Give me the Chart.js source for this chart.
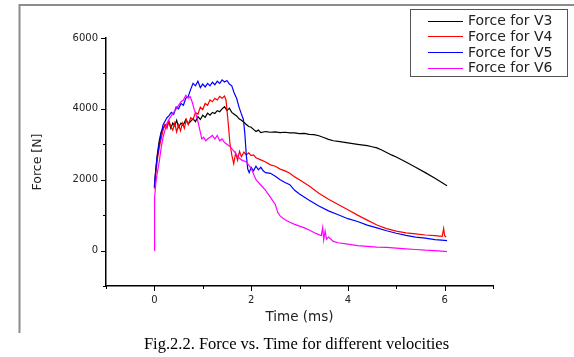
<!DOCTYPE html>
<html><head><meta charset="utf-8">
<script src="https://cdn.jsdelivr.net/npm/chart.js@4"></script>
<style>html,body{margin:0;padding:0;background:#fff;overflow:hidden}canvas{display:block}</style>
</head><body>
<canvas id="c" width="574" height="357"></canvas>
<script>
// ---- data ----
const seriesLabels = ['Force for V3', 'Force for V4', 'Force for V5', 'Force for V6'];
const seriesColors = ['#000000', '#ff0000', '#0000ff', '#ff00ff'];

const tV3 = [0,0.03,0.06,0.1,0.14,0.18,0.22,0.26,0.3,0.34,0.38,0.42,0.46,0.5,
  0.55,0.6,0.65,0.7,0.75,0.8,0.85,0.9,0.95,1.0,1.05,1.1,1.15,1.2,1.25,1.3,1.35,1.4,1.45,1.5,1.55,1.6,1.65,1.7,1.75,1.8,1.85,1.9,1.95,2.0,2.05,2.1,2.15,2.2,
  2.3,2.4,2.5,2.6,2.7,2.8,2.9,3.0,3.1,3.2,3.3,3.4,3.5,3.6,3.7,3.8,3.9,4.0,
  4.2,4.4,4.5,4.6,4.7,4.8,4.9,5.0,
  5.2,5.4,5.6,5.8,6.0,6.05];
const fV3 = [1800,2300,2700,3100,3350,3450,3550,3500,3650,3450,3600,3520,3680,3480,
  3600,3550,3700,3580,3650,3720,3640,3780,3700,3820,3760,3880,3820,3900,3870,3950,3920,4000,4060,3950,4020,3900,3850,3800,3720,3680,3620,3560,3500,3480,3420,3360,3400,3330,
  3360,3340,3350,3330,3340,3320,3320,3300,3310,3280,3270,3240,3190,3140,3100,3080,3060,3040,
  3000,2960,2930,2900,2840,2770,2700,2640,
  2500,2350,2200,2040,1870,1830];

const tV4 = [0,0.03,0.06,
  0.1,0.14,0.18,0.22,0.26,0.3,0.34,0.38,0.42,0.46,0.5,0.54,0.58,0.62,0.66,0.7,
  0.75,0.8,0.85,0.9,0.95,1.0,1.05,1.1,1.15,1.2,1.25,1.3,1.35,1.4,1.45,
  1.48,1.52,1.56,1.6,1.64,1.68,1.72,1.76,1.8,
  1.85,1.9,1.95,2.0,2.05,2.1,
  2.2,2.3,2.4,2.5,2.6,2.7,2.8,2.9,3.0,
  3.2,3.4,3.6,3.8,4.0,4.2,4.4,4.6,4.8,5.0,5.2,5.4,5.6,5.8,
  5.9,5.95,5.98,6.0,6.03];
const fV4 = [1750,2200,2550,
  2900,3150,3400,3550,3450,3650,3500,3400,3600,3350,3550,3380,3600,3450,3700,3550,
  3750,3700,3900,3850,4050,3980,4150,4100,4250,4200,4300,4250,4350,4300,4360,
  4250,3700,3050,2700,2450,2750,2550,2800,2650,
  2780,2700,2760,2680,2700,2620,
  2560,2500,2420,2380,2300,2250,2180,2080,2000,
  1820,1620,1450,1300,1150,1000,860,720,620,550,500,470,440,420,
  410,400,620,420,380];

const tV5 = [0,0.03,0.06,
  0.1,0.14,0.18,0.22,0.26,0.3,
  0.35,0.4,0.45,0.5,0.55,0.6,0.65,0.7,0.75,0.8,0.85,0.9,0.95,1.0,1.05,1.1,1.15,1.2,1.25,1.3,1.35,1.4,1.45,1.5,1.55,1.6,1.65,1.7,1.75,1.8,
  1.84,1.87,1.9,1.93,1.96,
  2.0,2.05,2.1,2.15,2.2,2.25,2.3,
  2.4,2.5,2.6,2.7,2.8,2.9,3.0,
  3.2,3.4,3.6,3.8,4.0,4.2,4.4,4.6,4.8,5.0,5.2,5.4,5.6,5.8,6.0,
  6.05];
const fV5 = [1800,2300,2650,
  3000,3300,3550,3650,3750,3800,
  3900,3850,4050,4000,4150,4100,4300,4350,4550,4720,4650,4780,4600,4700,4620,4720,4650,4750,4680,4780,4720,4820,4760,4800,4700,4650,4450,4300,4050,3850,
  3700,3300,2700,2300,2200,
  2350,2250,2380,2280,2350,2250,2200,
  2180,2100,2000,1920,1860,1700,1600,
  1420,1260,1120,1010,900,820,720,640,560,490,430,380,350,310,290,
  280];

const tV6 = [0,0.005,0.03,0.06,
  0.1,0.14,0.18,0.22,0.26,0.3,
  0.35,0.4,0.45,0.5,0.55,0.6,0.65,0.7,
  0.74,0.78,0.82,0.86,0.9,0.94,0.98,1.02,1.06,1.1,
  1.15,1.2,1.25,1.3,1.35,1.4,1.45,1.5,1.55,1.6,1.65,1.7,1.75,1.8,
  1.9,2.0,2.1,2.2,2.3,2.4,2.5,
  2.55,
  2.6,2.7,2.8,2.9,3.0,3.1,3.2,3.3,3.4,
  3.45,3.48,3.5,3.53,3.56,3.6,
  3.7,3.8,
  4.0,4.2,4.4,4.6,4.8,5.0,5.2,5.4,5.6,5.8,6.0,
  6.05];
const fV6 = [0,1500,1900,2200,
  2500,2900,3200,3400,3600,3700,
  3800,3900,4000,4100,4200,4250,4380,4300,
  4350,4200,4000,3850,3650,3400,3150,3200,3100,3150,
  3200,3250,3150,3250,3100,3150,3050,3000,2950,2880,2800,2700,2620,2560,
  2500,2320,2000,1850,1700,1500,1300,
  1080,
  980,870,800,740,690,640,580,510,450,
  420,650,300,550,320,380,
  260,220,
  180,140,120,100,90,70,50,30,10,0,-20,
  -30];

const xTickLabels = [0, 2, 4, 6];
const yTickLabels = [0, 2000, 4000, 6000];
const xTitle = 'Time (ms)';
const yTitle = 'Force [N]';
const caption = 'Fig.2.2. Force vs. Time for different velocities';

// ---- chart ----
const times = [tV3, tV4, tV5, tV6];
const forces = [fV3, fV4, fV5, fV6];
const datasets = seriesLabels.map((label, k) => ({
  label,
  data: times[k].map((t, i) => ({ x: t, y: forces[k][i] })),
  borderColor: seriesColors[k],
  backgroundColor: seriesColors[k],
  borderWidth: 1.2,
  pointRadius: 0,
  tension: 0,
  fill: false,
  order: 4 - k
}));

const tickFont = { family: 'DejaVu Sans', size: 10 };

const decor = {
  id: 'decor',
  beforeDraw(chart) {
    const ctx = chart.ctx;
    ctx.save();
    ctx.fillStyle = '#fff';
    ctx.fillRect(0, 0, chart.width, chart.height);
    ctx.strokeStyle = '#8c8c8c';
    ctx.lineWidth = 2;
    ctx.beginPath();
    ctx.moveTo(19.5, 333);
    ctx.lineTo(19.5, 5);
    ctx.lineTo(574, 5);
    ctx.stroke();
    ctx.restore();
  },
  afterDraw(chart) {
    const ctx = chart.ctx;
    const xs = chart.scales.x, ys = chart.scales.y;
    ctx.save();
    ctx.strokeStyle = '#000';
    ctx.lineWidth = 1;
    xs.ticks.forEach((t, i) => {
      const px = Math.round(xs.getPixelForTick(i)) + 0.5;
      const len = xTickLabels.includes(t.value) ? 5 : 3;
      ctx.beginPath(); ctx.moveTo(px, xs.top); ctx.lineTo(px, xs.top + len); ctx.stroke();
    });
    ys.ticks.forEach((t, i) => {
      const py = Math.round(ys.getPixelForTick(i)) + 0.5;
      const len = yTickLabels.includes(t.value) ? 5 : 3;
      ctx.beginPath(); ctx.moveTo(ys.right - len, py); ctx.lineTo(ys.right, py); ctx.stroke();
    });
    // legend
    ctx.fillStyle = '#fff';
    ctx.fillRect(410.5, 9.5, 157, 67);
    ctx.strokeStyle = '#555';
    ctx.lineWidth = 1;
    ctx.strokeRect(410.5, 9.5, 157, 67);
    ctx.font = '14px "DejaVu Sans"';
    ctx.textBaseline = 'middle';
    ctx.textAlign = 'left';
    chart.data.datasets.forEach((ds, i) => {
      const y = 20.7 + i * 15.7;
      ctx.strokeStyle = ds.borderColor;
      ctx.beginPath(); ctx.moveTo(428, Math.round(y) + 0.5); ctx.lineTo(463, Math.round(y) + 0.5); ctx.stroke();
      ctx.fillStyle = '#222';
      ctx.fillText(ds.label, 468, y + 1);
    });
    // caption
    ctx.fillStyle = '#000';
    ctx.font = '16.5px "Liberation Serif"';
    ctx.textAlign = 'center';
    ctx.textBaseline = 'alphabetic';
    ctx.fillText(caption, 296.5, 349);
    ctx.restore();
  }
};

new Chart(document.getElementById('c'), {
  type: 'line',
  data: { datasets },
  plugins: [decor],
  options: {
    responsive: false,
    animation: false,
    events: [],
    layout: { padding: { left: 0, top: 38, right: 81, bottom: 31 } },
    plugins: { legend: { display: false }, tooltip: { enabled: false } },
    scales: {
      x: {
        type: 'linear',
        min: -1, max: 7,
        afterFit: (s) => { s.height = 40; },
        grid: { display: false, drawTicks: true, tickLength: 5 },
        border: { display: true, color: '#000', width: 1.5 },
        ticks: {
          stepSize: 1, autoSkip: false, maxRotation: 0, padding: 3,
          color: '#222', font: tickFont,
          callback: (v) => xTickLabels.includes(v) ? String(v) : ''
        },
        title: { display: true, text: xTitle, color: '#222',
          font: { family: 'DejaVu Sans', size: 13.5 }, padding: { top: 0, bottom: 0 } }
      },
      y: {
        type: 'linear',
        min: -1000, max: 6000,
        afterFit: (s) => { s.width = 106; },
        grid: { display: false, drawTicks: true, tickLength: 5 },
        border: { display: true, color: '#000', width: 1.5 },
        ticks: {
          stepSize: 1000, autoSkip: false, padding: 3,
          color: '#222', font: tickFont,
          callback: (v) => yTickLabels.includes(v) ? String(v) : ''
        },
        title: { display: true, text: yTitle, color: '#222',
          font: { family: 'DejaVu Sans', size: 12.5 }, padding: { top: 30, bottom: 0 } }
      }
    }
  }
});
</script>
</body></html>
